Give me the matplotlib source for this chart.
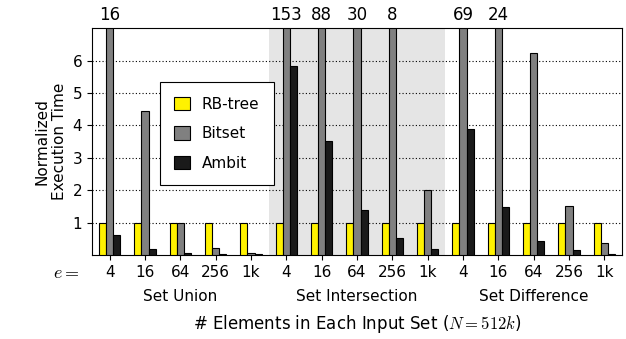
import matplotlib
matplotlib.use("Agg")
import matplotlib.pyplot as plt
import numpy as np

plt.rcParams['font.family'] = ['DejaVu Sans']
plt.rcParams['mathtext.fontset'] = 'cm'

sizes = ["4", "16", "64", "256", "1k"]
operations = ["Set Union", "Set Intersection", "Set Difference"]
series = ["RB-tree", "Bitset", "Ambit"]
rbtree = [1, 1, 1, 1, 1, 1, 1, 1, 1, 1, 1, 1, 1, 1, 1]
bitset = [16, 4.45, 1.0, 0.22, 0.05, 153, 88, 30, 8, 2.0, 69, 24, 6.22, 1.5, 0.36]
ambit = [0.62, 0.18, 0.05, 0.03, 0.015, 5.84, 3.53, 1.39, 0.52, 0.17, 3.89, 1.47, 0.42, 0.14, 0.04]
colors = ["#fff200", "#808080", "#1a1a1a"]
ymax = 7

fig = plt.figure(figsize=(6.26, 3.39), dpi=100)
ax = fig.add_axes([0.147, 0.248, 0.8466, 0.669])

x = np.arange(len(rbtree))
w = 0.2
ax.axvspan(4.5, 9.5, color="#e5e5e5", zorder=0, lw=0)
for i, (vals, c, name) in enumerate(zip([rbtree, bitset, ambit], colors, series)):
    clipped = [min(v, ymax) for v in vals]
    ax.bar(x + (i - 1) * w, clipped, width=w, color=c, edgecolor="black",
           linewidth=0.8, label=name, zorder=3)

for xi, v in zip(x, bitset):
    if v > ymax:
        ax.text(xi, ymax + 0.12, f"{v:g}", ha="center", va="bottom", fontsize=12)

ax.set_xlim(-0.5, 14.5)
ax.set_ylim(0, ymax)
ax.set_yticks([1, 2, 3, 4, 5, 6])
ax.yaxis.grid(True, linestyle=(0, (1, 2)), color="black", linewidth=0.8, zorder=1)
ax.set_axisbelow(True)
ax.set_xticks(x)
ax.set_xticklabels(sizes * 3, fontsize=11)
ax.tick_params(axis="y", labelsize=11)
ax.set_ylabel("Normalized\nExecution Time", fontsize=11)

trans = ax.get_xaxis_transform()
ax.text(-0.85, -0.08, r"$e=$", transform=trans, ha="right", va="center", fontsize=13)
for j, op in enumerate(operations):
    ax.text(j * 5 + 2, -0.15, op, transform=trans, ha="center", va="top", fontsize=11)
ax.set_xlabel(r"# Elements in Each Input Set ($N = 512k$)", fontsize=12, labelpad=24)

leg = ax.legend(loc="upper left", bbox_to_anchor=(0.128, 0.762), fancybox=False,
                edgecolor="black", framealpha=1, fontsize=11, handlelength=1.0,
                handleheight=1.0, labelspacing=0.95, borderpad=0.95, borderaxespad=0)
leg.get_frame().set_linewidth(0.8)

fig.savefig("out.png", dpi=100)
